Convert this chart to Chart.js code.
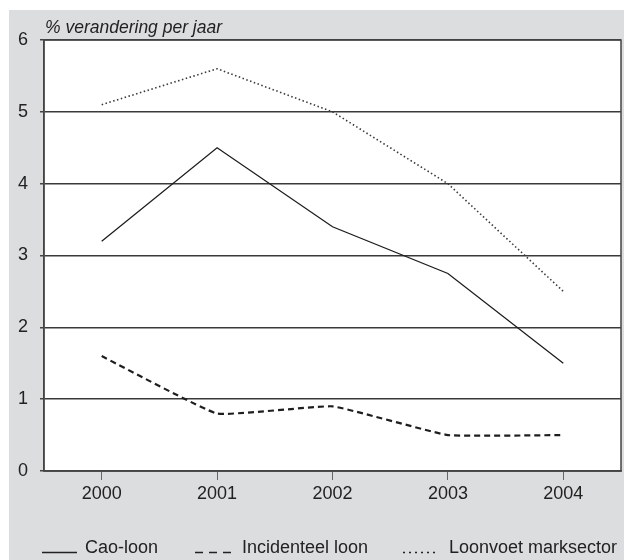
<!DOCTYPE html>
<html><head><meta charset="utf-8">
<script src="https://cdn.jsdelivr.net/npm/chart.js@4"></script>
<style>html,body{margin:0;padding:0;background:#fff}#wrap{width:624px;height:560px}</style>
</head><body><div id="wrap"><canvas id="c" width="624" height="560"></canvas></div>
<script>
// ---- data ----
const years = ['2000', '2001', '2002', '2003', '2004'];
const caoLoon = [3.2, 4.5, 3.4, 2.75, 1.5];
const incidenteelLoon = [1.6, 0.8, 0.9, 0.5, 0.5];
const loonvoetMarksector = [5.1, 5.6, 5.0, 4.0, 2.5];
const seriesNames = ['Cao-loon', 'Incidenteel loon', 'Loonvoet marksector'];
const yMin = 0, yMax = 6, yStep = 1;
const yTitle = '% verandering per jaar';

const FONT = '"Liberation Sans", Arial, Helvetica, sans-serif';
const TXT = '#222';

const bgPlugin = {
  id: 'bg',
  beforeDraw(chart) {
    const ctx = chart.ctx, a = chart.chartArea;
    ctx.save();
    ctx.fillStyle = '#ffffff';
    ctx.fillRect(0, 0, chart.width, chart.height);
    ctx.fillStyle = '#dcdddf';
    ctx.fillRect(9, 10, chart.width - 9, chart.height - 10);
    ctx.fillStyle = '#ffffff';
    ctx.fillRect(a.left, a.top, a.right - a.left, a.bottom - a.top);
    ctx.restore();
  },
  beforeDatasetsDraw(chart) {
    const ctx = chart.ctx, a = chart.chartArea;
    ctx.save();
    ctx.strokeStyle = '#444';
    ctx.lineWidth = 1.5;
    ctx.strokeRect(a.left, a.top, a.right - a.left, a.bottom - a.top);
    ctx.restore();
  },
  afterDraw(chart) {
    const ctx = chart.ctx;
    ctx.save();
    ctx.fillStyle = TXT;
    ctx.textBaseline = 'alphabetic';
    ctx.font = 'italic 17.5px ' + FONT;
    ctx.fillText(yTitle, 45, 33);
    // legend
    ctx.font = '18px ' + FONT;
    const ly = 552.5;
    const items = [
      {x0: 42, x1: 77, tx: 85, dash: [], lw: 1.3},
      {x0: 195, x1: 232, tx: 242, dash: [8, 6], lw: 1.3},
      {x0: 403, x1: 436, tx: 449, dash: [2, 4], lw: 1.6}
    ];
    items.forEach((it, i) => {
      ctx.beginPath();
      ctx.setLineDash(it.dash);
      ctx.strokeStyle = '#222';
      ctx.lineWidth = it.lw;
      ctx.moveTo(it.x0, ly);
      ctx.lineTo(it.x1, ly);
      ctx.stroke();
      ctx.setLineDash([]);
      ctx.fillText(seriesNames[i], it.tx, 553);
    });
    ctx.restore();
  }
};

new Chart(document.getElementById('c'), {
  type: 'line',
  data: {
    labels: years,
    datasets: [
      {label: seriesNames[0], data: caoLoon, borderColor: '#1e1e1e', borderWidth: 1.3, pointRadius: 0, tension: 0, fill: false},
      {label: seriesNames[1], data: incidenteelLoon, borderColor: '#1e1e1e', borderWidth: 2.2, borderDash: [6, 4], pointRadius: 0, tension: 0.1, fill: false},
      {label: seriesNames[2], data: loonvoetMarksector, borderColor: '#3a3a3a', borderWidth: 1.6, borderDash: [1.5, 2.5], pointRadius: 0, tension: 0, fill: false}
    ]
  },
  options: {
    responsive: false,
    animation: false,
    devicePixelRatio: 1,
    layout: {padding: {left: 0, right: 3, top: 40, bottom: 51}},
    plugins: {legend: {display: false}, title: {display: false}, tooltip: {enabled: false}},
    scales: {
      x: {
        offset: true,
        grid: {drawOnChartArea: false, drawTicks: true, tickLength: 9, offset: false, color: '#666', lineWidth: 1},
        border: {display: true, color: '#444', width: 1.5},
        ticks: {color: TXT, font: {family: FONT, size: 18}, padding: 3, maxRotation: 0},
        afterFit(s) { s.height = 38; }
      },
      y: {
        min: yMin, max: yMax,
        grid: {color: '#3a3a3a', lineWidth: 1.5, drawTicks: true, tickLength: 4, tickColor: '#444'},
        border: {display: true, color: '#444', width: 1.5},
        ticks: {stepSize: yStep, color: TXT, font: {family: FONT, size: 18}, padding: 12},
        afterFit(s) { s.width = 44; }
      }
    }
  },
  plugins: [bgPlugin]
});
</script>
</body></html>
